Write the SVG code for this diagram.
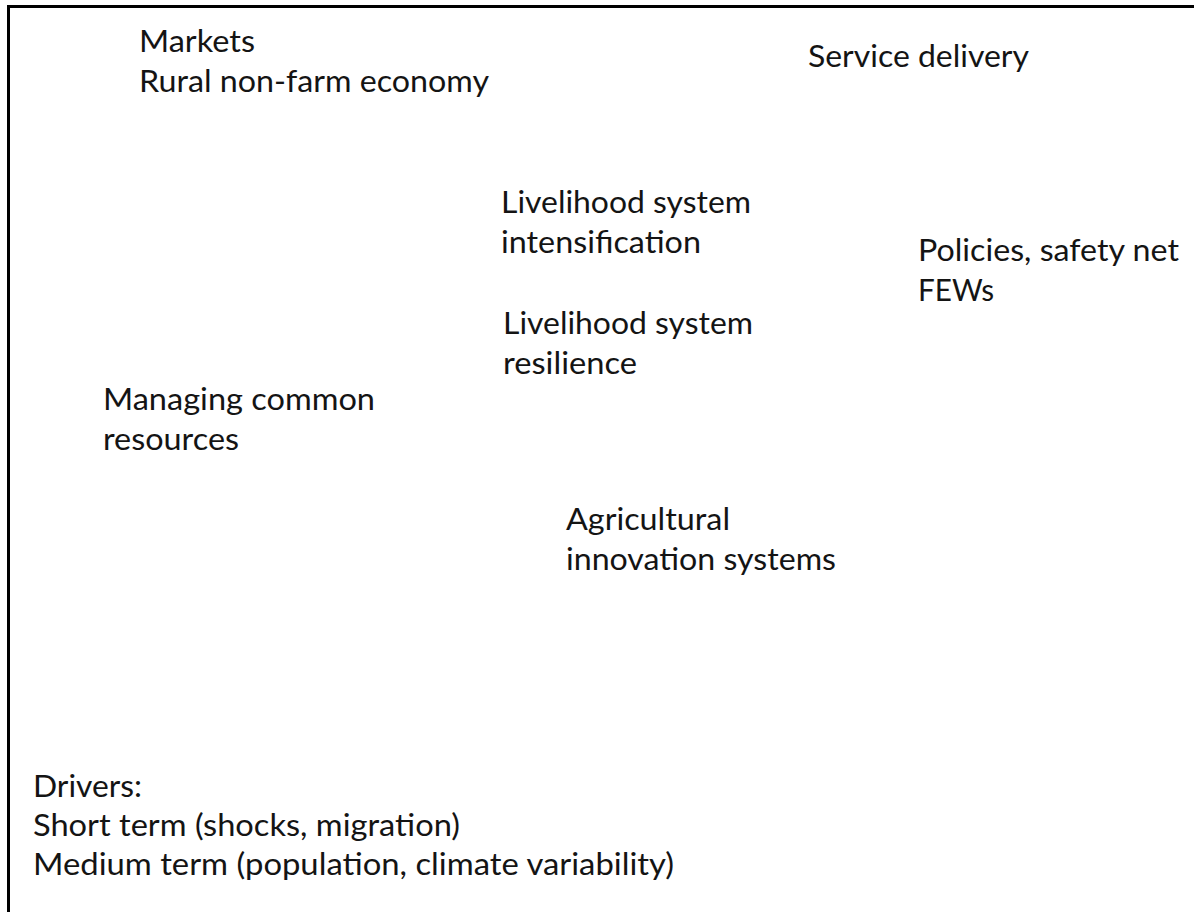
<svg xmlns="http://www.w3.org/2000/svg" width="1194" height="912" viewBox="0 0 1194 912">
<style>
.t{font-family:Lato,"Open Sans","Liberation Sans",sans-serif;font-size:30px;fill:#141414}
.frame{fill:none;stroke:#000;stroke-width:3}
</style>
<rect x="0" y="0" width="1194" height="912" fill="#fff"/>
<rect class="frame" x="8.5" y="6.5" width="1200" height="920"/>
<g id="connectors"/>
<g id="markets">
<text class="t" x="139" y="52" textLength="116" lengthAdjust="spacingAndGlyphs">Markets</text>
<text class="t" x="139" y="92" textLength="350" lengthAdjust="spacingAndGlyphs">Rural non-farm economy</text>
</g>
<g id="service">
<text class="t" x="808" y="67" textLength="221" lengthAdjust="spacingAndGlyphs">Service delivery</text>
</g>
<g id="intensification">
<text class="t" x="501" y="213" textLength="250" lengthAdjust="spacingAndGlyphs">Livelihood system</text>
<text class="t" x="501" y="253" textLength="200" lengthAdjust="spacingAndGlyphs">intensification</text>
</g>
<g id="policies">
<text class="t" x="918" y="261" textLength="261" lengthAdjust="spacingAndGlyphs">Policies, safety net</text>
<text class="t" x="918" y="301" textLength="76" lengthAdjust="spacingAndGlyphs">FEWs</text>
</g>
<g id="resilience">
<text class="t" x="503" y="334" textLength="250" lengthAdjust="spacingAndGlyphs">Livelihood system</text>
<text class="t" x="503" y="374" textLength="134" lengthAdjust="spacingAndGlyphs">resilience</text>
</g>
<g id="common">
<text class="t" x="103" y="410" textLength="272" lengthAdjust="spacingAndGlyphs">Managing common</text>
<text class="t" x="103" y="450" textLength="136" lengthAdjust="spacingAndGlyphs">resources</text>
</g>
<g id="innovation">
<text class="t" x="566" y="530" textLength="164" lengthAdjust="spacingAndGlyphs">Agricultural</text>
<text class="t" x="566" y="570" textLength="270" lengthAdjust="spacingAndGlyphs">innovation systems</text>
</g>
<g id="drivers">
<text class="t" x="33" y="797" textLength="109" lengthAdjust="spacingAndGlyphs">Drivers:</text>
<text class="t" x="33" y="836" textLength="427" lengthAdjust="spacingAndGlyphs">Short term (shocks, migration)</text>
<text class="t" x="33" y="875" textLength="641" lengthAdjust="spacingAndGlyphs">Medium term (population, climate variability)</text>
</g>
</svg>
